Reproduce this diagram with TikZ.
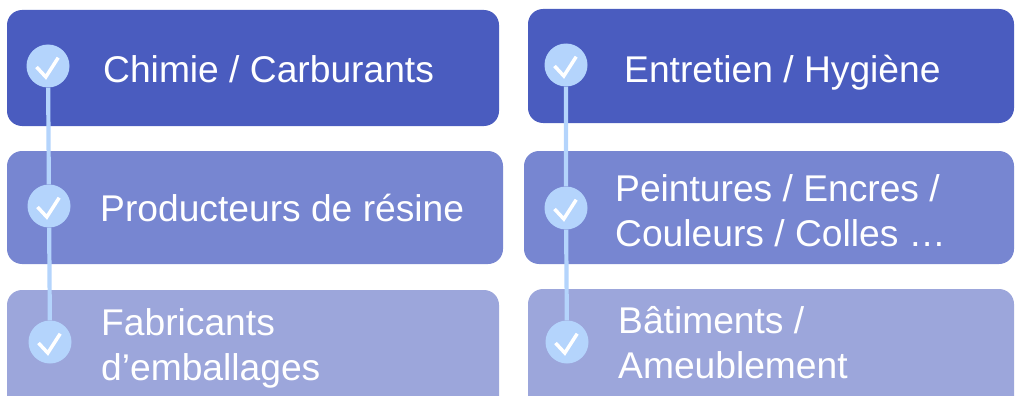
\documentclass[tikz,border=0pt]{standalone}
\usepackage{fontspec}
\setmainfont{Liberation Sans}
\usetikzlibrary{positioning}

\definecolor{bandA}{HTML}{4A5CBF}
\definecolor{bandB}{HTML}{7786D1}
\definecolor{bandC}{HTML}{9CA6DB}
\definecolor{tickblue}{HTML}{B4D4FC}

\tikzset{
	band/.style={rounded corners=15pt, inner sep=0pt},
	dot/.style={circle, fill=tickblue, minimum size=43pt, inner sep=0pt},
	label text/.style={text=white, anchor=base west, align=left, inner sep=0pt,
		font=\fontsize{37.2pt}{44.5pt}\selectfont},
	rail/.style={draw=tickblue, line width=4.2pt},
}

\begin{document}
\begin{tikzpicture}[x=1pt, y=-1pt]
	\useasboundingbox (0,0) rectangle (1015,396);
	\clip (0,0) rectangle (1015,396);

		% left column
		\node [band, fill=bandA, minimum width=492pt, minimum height=116pt] (chimie) at (253,68) {};
		\node [band, fill=bandB, minimum width=496pt, minimum height=113pt] (resine) at (255,207.5) {};
		\node [band, fill=bandC, minimum width=492pt, minimum height=130pt] (emballage) at (253,355) {};

		% right column
		\node [band, fill=bandA, minimum width=486pt, minimum height=114pt] (entretien) at (771,66) {};
		\node [band, fill=bandB, minimum width=490pt, minimum height=113pt] (peinture) at (769,207.5) {};
		\node [band, fill=bandC, minimum width=486pt, minimum height=130pt] (batiment) at (771,354) {};

		\node [dot] (l1) at (48,66) {};
		\node [dot] (l2) at (49,206) {};
		\node [dot] (l3) at (50,342) {};
		\node [dot] (r1) at (566,65) {};
		\node [dot] (r2) at (566,208) {};
		\node [dot] (r3) at (567,342) {};

		\draw [rail] (l1) -- (l2) -- (l3);
		\draw [rail] (r1) -- (r2) -- (r3);

		\foreach \d in {l1,l2,l3,r1,r2,r3}
			\draw [white, line width=3.5pt] ([shift={(-11.5,1)}]\d.center) -- ++(9.3,10) -- ++(12.4,-19.3);

		% base of a two-line label is its last line
		\node [label text] (t1) at (103,83) {Chimie / Carburants};
		\node [label text] (t2) at (100,221) {Producteurs de résine};
		\node [label text] (t3) at (101,380) {Fabricants\\d’emballages};
		\node [label text] (t4) at (624,82) {Entretien / Hygiène};
		\node [label text] (t5) at (615,246) {Peintures / Encres /\\Couleurs / Colles …};
		\node [label text] (t6) at (618,378) {Bâtiments /\\Ameublement};

\end{tikzpicture}
\end{document}
